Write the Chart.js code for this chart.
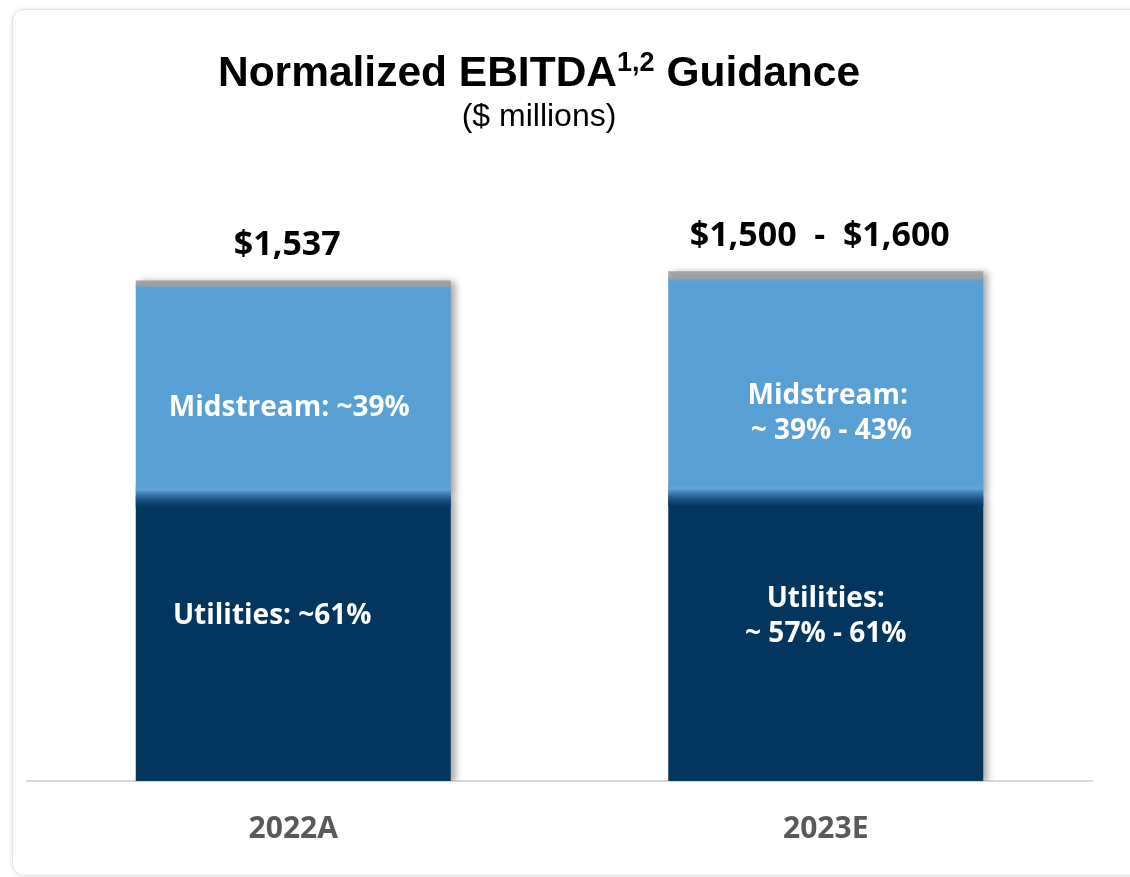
<!DOCTYPE html>
<html>
<head>
<meta charset="utf-8">
<script src="https://cdn.jsdelivr.net/npm/chart.js@4"></script>
<style>
  html, body { margin: 0; padding: 0; background: #ffffff; width: 1130px; height: 877px; overflow: hidden; }
  #card { position: absolute; left: 12px; top: 9px; width: 1150px; height: 865px; border: 1px solid #e4e4e4; border-radius: 12px; box-shadow: 0 0 5px rgba(0,0,0,0.10); background: #fff; }
  #wrap { position: absolute; left: 0; top: 0; width: 1130px; height: 877px; }
  .title { position: absolute; left: 0; width: 1078px; text-align: center; font-family: "Liberation Sans", Arial, sans-serif; color: #000; white-space: nowrap; }
  #t1 { top: 51px; font-size: 42.5px; font-weight: bold; line-height: 42px; }
  #t1 sup { font-size: 27px; position: relative; top: -2px; vertical-align: top; line-height: 27px; }
  #t2 { top: 99px; font-size: 32px; line-height: 32px; }
</style>
</head>
<body>
<div id="card"></div>
<div id="wrap"><canvas id="c" width="1130" height="877"></canvas></div>
<div class="title" id="t1">Normalized EBITDA<sup>1,2</sup> Guidance</div>
<div class="title" id="t2">($ millions)</div>
<script>
// ---- data ----
const categories = ['2022A', '2023E'];
const utilities = [874, 877];      // dark segment
const midstream = [644, 663];      // light segment
const rangeCap = [18, 25];         // grey cap on top
const totalLabels = ['$1,537', '$1,500  -  $1,600'];
const midstreamLabels = [['Midstream: ~39%'], ['Midstream:', ' ~ 39% - 43%']];
const utilitiesLabels = [['Utilities: ~61%'], ['Utilities:', '~ 57% - 61%']];

// ---- styles ----
const DARK = '#03365f';
const LIGHT = '#589fd3';
const GREY = '#a5a5a5';
const midOffsets = [{dx: -4, dy: 17}, {dx: 2, dy: 26}];
const utilOffsets = [{dx: -21, dy: -23}, {dx: 0, dy: -22}];

const shadowPlugin = {
  id: 'barShadow',
  beforeDatasetsDraw(chart) {
    const ctx = chart.ctx;
    ctx.save();
    ctx.shadowColor = 'rgba(0,0,0,0.35)';
    ctx.shadowBlur = 7;
    ctx.shadowOffsetX = 5;
    ctx.shadowOffsetY = 1;
  },
  afterDatasetsDraw(chart) {
    chart.ctx.restore();
  }
};

const overlayPlugin = {
  id: 'overlay',
  afterDatasetsDraw(chart) {
    const ctx = chart.ctx;
    const dark = chart.getDatasetMeta(0).data;
    const mid = chart.getDatasetMeta(1).data;
    const cap = chart.getDatasetMeta(2).data;
    ctx.save();
    dark.forEach((el, i) => {
      const left = el.x - el.width / 2;
      // blended boundary between segments
      const g = ctx.createLinearGradient(0, el.y - 10, 0, el.y + 11);
      g.addColorStop(0, LIGHT);
      g.addColorStop(0.15, '#63a6d8');
      g.addColorStop(0.35, '#3f7fb4');
      g.addColorStop(0.65, '#1b5386');
      g.addColorStop(1, DARK);
      ctx.fillStyle = g;
      ctx.fillRect(left, el.y - 10, el.width, 21);
      // soft blend between cap and light segment
      const m = mid[i];
      const g2 = ctx.createLinearGradient(0, m.y - 2, 0, m.y + 2);
      g2.addColorStop(0, GREY);
      g2.addColorStop(1, LIGHT);
      ctx.fillStyle = g2;
      ctx.fillRect(left, m.y - 2, el.width, 4);
    });
    // segment labels
    ctx.fillStyle = '#ffffff';
    ctx.textAlign = 'center';
    ctx.textBaseline = 'middle';
    ctx.font = 'bold 28px "Open Sans", "Noto Sans", sans-serif';
    const lh = 35;
    mid.forEach((el, i) => {
      const cy = (el.y + el.base) / 2 + midOffsets[i].dy;
      const lines = midstreamLabels[i];
      lines.forEach((t, k) => ctx.fillText(t, el.x + midOffsets[i].dx, cy + (k - (lines.length - 1) / 2) * lh));
    });
    dark.forEach((el, i) => {
      const cy = (el.y + el.base) / 2 + utilOffsets[i].dy;
      const lines = utilitiesLabels[i];
      lines.forEach((t, k) => ctx.fillText(t, el.x + utilOffsets[i].dx, cy + (k - (lines.length - 1) / 2) * lh));
    });
    // totals
    ctx.fillStyle = '#000000';
    ctx.font = 'bold 34px "Open Sans", "Noto Sans", sans-serif';
    cap.forEach((el, i) => {
      ctx.fillText(totalLabels[i], el.x - 6, el.y - 35);
    });
    ctx.restore();
  }
};

const common = { barPercentage: 0.5915, categoryPercentage: 1.0, borderWidth: 0, stack: 's' };

new Chart(document.getElementById('c'), {
  type: 'bar',
  data: {
    labels: categories,
    datasets: [
      Object.assign({ label: 'Utilities', data: utilities, backgroundColor: DARK }, common),
      Object.assign({ label: 'Midstream', data: midstream, backgroundColor: LIGHT }, common),
      Object.assign({ label: 'Range', data: rangeCap, backgroundColor: GREY }, common)
    ]
  },
  options: {
    responsive: false,
    animation: false,
    devicePixelRatio: 1,
    layout: { padding: { left: 27, right: 38, top: 162, bottom: 0 } },
    plugins: { legend: { display: false }, tooltip: { enabled: false }, title: { display: false } },
    scales: {
      x: {
        stacked: true,
        grid: { display: false, drawTicks: false },
        border: { display: true, color: '#d9d9d9', width: 2 },
        ticks: { color: '#595959', font: { family: '"Open Sans", "Noto Sans", sans-serif', size: 30, weight: 'bold', lineHeight: 1.0 }, padding: 33 }
      },
      y: {
        stacked: true,
        display: false,
        min: 0,
        max: 1900
      }
    }
  },
  plugins: [shadowPlugin, overlayPlugin]
});
</script>
</body>
</html>
